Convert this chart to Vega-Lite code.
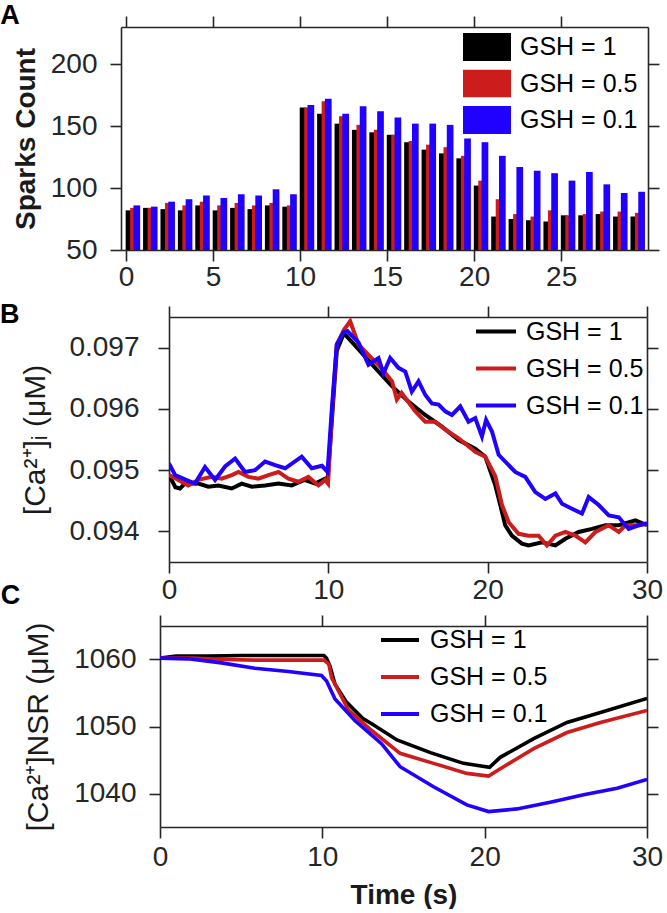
{
  "$schema": "https://vega.github.io/schema/vega-lite/v6.json",
  "background": "white",
  "padding": {"left": -1, "top": 2, "right": 0, "bottom": 0},
  "config": {
    "font": "Liberation Sans",
    "view": {"stroke": null},
    "axis": {
      "grid": false,
      "domainColor": "#262626", "domainWidth": 1.6,
      "tickColor": "#262626", "tickWidth": 1.6, "tickSize": 11,
      "labelColor": "#262626", "labelFont": "Liberation Sans", "labelFontSize": 28,
      "labelFlush": false, "labelOverlap": false,
      "titleColor": "#1a1a1a", "titleFont": "Liberation Sans", "titleFontSize": 28, "titleFontWeight": "bold"
    },
    "legend": {
      "orient": "none", "padding": 0, "title": null,
      "labelFont": "Liberation Sans", "labelFontSize": 25, "labelColor": "#000000"
    },
    "title": {"font": "Liberation Sans", "fontSize": 27, "fontWeight": "bold", "color": "#000000", "anchor": "start", "frame": "bounds"}
  },
  "resolve": {"scale": {"color": "independent", "x": "independent", "y": "independent"}, "legend": {"color": "independent"}},
  "spacing": 10,
  "vconcat": [
    {
      "width": 527, "height": 223,
      "title": {"text": "A", "dx": -12, "offset": -15},
      "data": {"values": [
        {"t":0,"g":"GSH = 1","n":82},{"t":1,"g":"GSH = 1","n":84},{"t":2,"g":"GSH = 1","n":83},{"t":3,"g":"GSH = 1","n":82},{"t":4,"g":"GSH = 1","n":86},{"t":5,"g":"GSH = 1","n":82},{"t":6,"g":"GSH = 1","n":84},{"t":7,"g":"GSH = 1","n":83},{"t":8,"g":"GSH = 1","n":86},{"t":9,"g":"GSH = 1","n":85},
        {"t":10,"g":"GSH = 1","n":165},{"t":11,"g":"GSH = 1","n":160},{"t":12,"g":"GSH = 1","n":152},{"t":13,"g":"GSH = 1","n":147},{"t":14,"g":"GSH = 1","n":145},{"t":15,"g":"GSH = 1","n":143},{"t":16,"g":"GSH = 1","n":137},{"t":17,"g":"GSH = 1","n":131},{"t":18,"g":"GSH = 1","n":128},{"t":19,"g":"GSH = 1","n":124},
        {"t":20,"g":"GSH = 1","n":102},{"t":21,"g":"GSH = 1","n":77},{"t":22,"g":"GSH = 1","n":75},{"t":23,"g":"GSH = 1","n":74},{"t":24,"g":"GSH = 1","n":73},{"t":25,"g":"GSH = 1","n":78},{"t":26,"g":"GSH = 1","n":78},{"t":27,"g":"GSH = 1","n":79},{"t":28,"g":"GSH = 1","n":77},{"t":29,"g":"GSH = 1","n":77},
        {"t":0,"g":"GSH = 0.5","n":84},{"t":1,"g":"GSH = 0.5","n":84},{"t":2,"g":"GSH = 0.5","n":88},{"t":3,"g":"GSH = 0.5","n":86},{"t":4,"g":"GSH = 0.5","n":89},{"t":5,"g":"GSH = 0.5","n":86},{"t":6,"g":"GSH = 0.5","n":88},{"t":7,"g":"GSH = 0.5","n":86},{"t":8,"g":"GSH = 0.5","n":88},{"t":9,"g":"GSH = 0.5","n":86},
        {"t":10,"g":"GSH = 0.5","n":165},{"t":11,"g":"GSH = 0.5","n":170},{"t":12,"g":"GSH = 0.5","n":158},{"t":13,"g":"GSH = 0.5","n":151},{"t":14,"g":"GSH = 0.5","n":147},{"t":15,"g":"GSH = 0.5","n":143},{"t":16,"g":"GSH = 0.5","n":138},{"t":17,"g":"GSH = 0.5","n":135},{"t":18,"g":"GSH = 0.5","n":133},{"t":19,"g":"GSH = 0.5","n":126},
        {"t":20,"g":"GSH = 0.5","n":106},{"t":21,"g":"GSH = 0.5","n":91},{"t":22,"g":"GSH = 0.5","n":79},{"t":23,"g":"GSH = 0.5","n":77},{"t":24,"g":"GSH = 0.5","n":82},{"t":25,"g":"GSH = 0.5","n":78},{"t":26,"g":"GSH = 0.5","n":79},{"t":27,"g":"GSH = 0.5","n":81},{"t":28,"g":"GSH = 0.5","n":81},{"t":29,"g":"GSH = 0.5","n":80},
        {"t":0,"g":"GSH = 0.1","n":86},{"t":1,"g":"GSH = 0.1","n":85},{"t":2,"g":"GSH = 0.1","n":89},{"t":3,"g":"GSH = 0.1","n":91},{"t":4,"g":"GSH = 0.1","n":94},{"t":5,"g":"GSH = 0.1","n":92},{"t":6,"g":"GSH = 0.1","n":95},{"t":7,"g":"GSH = 0.1","n":94},{"t":8,"g":"GSH = 0.1","n":99},{"t":9,"g":"GSH = 0.1","n":95},
        {"t":10,"g":"GSH = 0.1","n":167},{"t":11,"g":"GSH = 0.1","n":172},{"t":12,"g":"GSH = 0.1","n":160},{"t":13,"g":"GSH = 0.1","n":166},{"t":14,"g":"GSH = 0.1","n":162},{"t":15,"g":"GSH = 0.1","n":157},{"t":16,"g":"GSH = 0.1","n":152},{"t":17,"g":"GSH = 0.1","n":152},{"t":18,"g":"GSH = 0.1","n":151},{"t":19,"g":"GSH = 0.1","n":140},
        {"t":20,"g":"GSH = 0.1","n":137},{"t":21,"g":"GSH = 0.1","n":126},{"t":22,"g":"GSH = 0.1","n":117},{"t":23,"g":"GSH = 0.1","n":114},{"t":24,"g":"GSH = 0.1","n":112},{"t":25,"g":"GSH = 0.1","n":106},{"t":26,"g":"GSH = 0.1","n":113},{"t":27,"g":"GSH = 0.1","n":103},{"t":28,"g":"GSH = 0.1","n":96},{"t":29,"g":"GSH = 0.1","n":97}
      ]},
      "layer": [
        {
          "transform": [{"filter": {"field": "g", "equal": "GSH = 1"}}],
          "mark": {"type": "bar", "width": 6.7, "xOffset": 3, "clip": true},
          "encoding": {
            "x": {"field": "t", "type": "quantitative", "scale": {"domain": [0, 29.7], "nice": false, "zero": false},
                  "axis": {"values": [0, 5, 10, 15, 20, 25], "title": null, "labelPadding": 2}},
            "y": {"field": "n", "type": "quantitative", "scale": {"domain": [50, 230], "nice": false, "zero": false},
                  "axis": {"values": [50, 100, 150, 200], "title": "Sparks Count", "labelPadding": 13, "titlePadding": 10}},
            "y2": {"datum": 50},
            "color": {"field": "g", "type": "nominal",
                      "scale": {"domain": ["GSH = 1", "GSH = 0.5", "GSH = 0.1"], "range": ["#000000", "#CC1C1C", "#2000FF"]},
                      "legend": {"legendX": 342, "legendY": 6, "symbolType": "M-1,-0.58H1V0.58H-1Z", "symbolSize": 2304, "symbolStrokeWidth": 0, "symbolOpacity": 1, "clipHeight": 28, "rowPadding": 8.5, "labelOffset": 9}}
          }
        },
        {
          "transform": [{"filter": {"field": "g", "equal": "GSH = 0.5"}}],
          "mark": {"type": "bar", "width": 6.7, "xOffset": 7.5, "clip": true},
          "encoding": {
            "x": {"field": "t", "type": "quantitative", "axis": null},
            "y": {"field": "n", "type": "quantitative", "axis": null},
            "y2": {"datum": 50},
            "color": {"field": "g", "type": "nominal"}
          }
        },
        {
          "transform": [{"filter": {"field": "g", "equal": "GSH = 0.1"}}],
          "mark": {"type": "bar", "width": 6.7, "xOffset": 10.8, "clip": true},
          "encoding": {
            "x": {"field": "t", "type": "quantitative", "axis": null},
            "y": {"field": "n", "type": "quantitative", "axis": null},
            "y2": {"datum": 50},
            "color": {"field": "g", "type": "nominal"}
          }
        },
        {
          "mark": {"type": "point", "opacity": 0},
          "encoding": {
            "x": {"field": "t", "type": "quantitative", "axis": {"orient": "top", "labels": false, "title": null, "values": [0, 5, 10, 15, 20, 25]}},
            "y": {"field": "n", "type": "quantitative", "axis": {"orient": "right", "labels": false, "title": null, "values": [50, 100, 150, 200]}}
          }
        }
      ],
      "resolve": {"axis": {"x": "independent", "y": "independent"}}
    },
    {
      "spacing": -22,
      "resolve": {"scale": {"color": "independent", "x": "independent", "y": "independent"}, "legend": {"color": "independent"}},
      "vconcat": [
        {
          "hconcat": [
            {"width": 48, "height": 10, "data": {"values": [{}]}, "mark": {"type": "point", "opacity": 0}, "encoding": {}},
            {
              "width": 478, "height": 245,
              "title": {"text": "B", "dx": -21, "offset": -24},
              "data": {"values": [
                {"t":0,"v":0.09492,"g":"GSH = 1"},{"t":0.4,"v":0.09472,"g":"GSH = 1"},{"t":0.69,"v":0.0947,"g":"GSH = 1"},{"t":1.0,"v":0.09478,"g":"GSH = 1"},{"t":1.84,"v":0.09478,"g":"GSH = 1"},{"t":2.47,"v":0.09473,"g":"GSH = 1"},{"t":3.1,"v":0.09475,"g":"GSH = 1"},{"t":3.94,"v":0.0947,"g":"GSH = 1"},{"t":4.56,"v":0.09478,"g":"GSH = 1"},{"t":5.2,"v":0.09473,"g":"GSH = 1"},{"t":6.03,"v":0.09475,"g":"GSH = 1"},{"t":6.87,"v":0.09478,"g":"GSH = 1"},{"t":7.7,"v":0.09475,"g":"GSH = 1"},{"t":8.5,"v":0.09484,"g":"GSH = 1"},{"t":9.17,"v":0.09478,"g":"GSH = 1"},{"t":9.8,"v":0.09486,"g":"GSH = 1"},{"t":9.95,"v":0.09482,"g":"GSH = 1"},
                {"t":10.22,"v":0.0958,"g":"GSH = 1"},{"t":10.53,"v":0.09695,"g":"GSH = 1"},{"t":10.95,"v":0.09722,"g":"GSH = 1"},{"t":11.1,"v":0.0972,"g":"GSH = 1"},{"t":11.9,"v":0.09697,"g":"GSH = 1"},{"t":12.94,"v":0.09667,"g":"GSH = 1"},{"t":13.99,"v":0.09637,"g":"GSH = 1"},{"t":15.03,"v":0.09612,"g":"GSH = 1"},{"t":16.08,"v":0.0959,"g":"GSH = 1"},{"t":17.13,"v":0.09571,"g":"GSH = 1"},{"t":18.18,"v":0.09549,"g":"GSH = 1"},{"t":19.22,"v":0.09535,"g":"GSH = 1"},{"t":19.85,"v":0.09522,"g":"GSH = 1"},
                {"t":20.48,"v":0.09475,"g":"GSH = 1"},{"t":20.79,"v":0.09443,"g":"GSH = 1"},{"t":21.1,"v":0.0941,"g":"GSH = 1"},{"t":21.52,"v":0.09393,"g":"GSH = 1"},{"t":22.15,"v":0.0938,"g":"GSH = 1"},{"t":22.57,"v":0.09377,"g":"GSH = 1"},{"t":23.41,"v":0.09382,"g":"GSH = 1"},{"t":24.25,"v":0.09377,"g":"GSH = 1"},{"t":24.88,"v":0.09388,"g":"GSH = 1"},{"t":25.71,"v":0.09399,"g":"GSH = 1"},{"t":26.55,"v":0.09404,"g":"GSH = 1"},{"t":27.39,"v":0.0941,"g":"GSH = 1"},{"t":28.23,"v":0.0941,"g":"GSH = 1"},{"t":29.27,"v":0.09418,"g":"GSH = 1"},{"t":30,"v":0.0941,"g":"GSH = 1"},
                {"t":0,"v":0.09492,"g":"GSH = 0.5"},{"t":0.59,"v":0.09484,"g":"GSH = 0.5"},{"t":1.21,"v":0.09475,"g":"GSH = 0.5"},{"t":1.84,"v":0.09484,"g":"GSH = 0.5"},{"t":2.68,"v":0.09489,"g":"GSH = 0.5"},{"t":3.31,"v":0.09486,"g":"GSH = 0.5"},{"t":3.94,"v":0.09492,"g":"GSH = 0.5"},{"t":4.36,"v":0.09497,"g":"GSH = 0.5"},{"t":4.98,"v":0.09489,"g":"GSH = 0.5"},{"t":5.61,"v":0.09486,"g":"GSH = 0.5"},{"t":6.24,"v":0.09492,"g":"GSH = 0.5"},{"t":6.87,"v":0.09497,"g":"GSH = 0.5"},{"t":7.49,"v":0.09486,"g":"GSH = 0.5"},{"t":8.12,"v":0.09481,"g":"GSH = 0.5"},{"t":8.75,"v":0.09489,"g":"GSH = 0.5"},{"t":9.38,"v":0.09475,"g":"GSH = 0.5"},{"t":9.8,"v":0.09484,"g":"GSH = 0.5"},{"t":9.98,"v":0.09478,"g":"GSH = 0.5"},
                {"t":10.22,"v":0.0959,"g":"GSH = 0.5"},{"t":10.53,"v":0.09705,"g":"GSH = 0.5"},{"t":11.0,"v":0.0973,"g":"GSH = 0.5"},{"t":11.37,"v":0.09743,"g":"GSH = 0.5"},{"t":11.9,"v":0.09705,"g":"GSH = 0.5"},{"t":12.52,"v":0.09688,"g":"GSH = 0.5"},{"t":13.25,"v":0.09669,"g":"GSH = 0.5"},{"t":14.0,"v":0.09645,"g":"GSH = 0.5"},{"t":14.3,"v":0.09615,"g":"GSH = 0.5"},{"t":14.6,"v":0.09626,"g":"GSH = 0.5"},{"t":15.45,"v":0.09596,"g":"GSH = 0.5"},{"t":16.08,"v":0.09579,"g":"GSH = 0.5"},{"t":16.7,"v":0.09579,"g":"GSH = 0.5"},{"t":17.34,"v":0.09566,"g":"GSH = 0.5"},{"t":18.18,"v":0.09552,"g":"GSH = 0.5"},{"t":19.22,"v":0.0953,"g":"GSH = 0.5"},{"t":19.85,"v":0.09522,"g":"GSH = 0.5"},
                {"t":20.48,"v":0.0949,"g":"GSH = 0.5"},{"t":20.9,"v":0.09443,"g":"GSH = 0.5"},{"t":21.32,"v":0.09415,"g":"GSH = 0.5"},{"t":21.94,"v":0.09396,"g":"GSH = 0.5"},{"t":22.57,"v":0.09393,"g":"GSH = 0.5"},{"t":23.2,"v":0.09393,"g":"GSH = 0.5"},{"t":23.72,"v":0.09377,"g":"GSH = 0.5"},{"t":24.25,"v":0.09393,"g":"GSH = 0.5"},{"t":24.88,"v":0.09399,"g":"GSH = 0.5"},{"t":25.5,"v":0.09393,"g":"GSH = 0.5"},{"t":26.13,"v":0.09382,"g":"GSH = 0.5"},{"t":26.76,"v":0.09399,"g":"GSH = 0.5"},{"t":27.6,"v":0.0941,"g":"GSH = 0.5"},{"t":28.23,"v":0.09399,"g":"GSH = 0.5"},{"t":28.65,"v":0.0941,"g":"GSH = 0.5"},{"t":29.5,"v":0.0941,"g":"GSH = 0.5"},{"t":30,"v":0.09413,"g":"GSH = 0.5"},
                {"t":0,"v":0.09511,"g":"GSH = 0.1"},{"t":0.38,"v":0.09492,"g":"GSH = 0.1"},{"t":1.0,"v":0.09485,"g":"GSH = 0.1"},{"t":1.63,"v":0.09478,"g":"GSH = 0.1"},{"t":2.26,"v":0.09505,"g":"GSH = 0.1"},{"t":2.89,"v":0.09484,"g":"GSH = 0.1"},{"t":3.52,"v":0.09506,"g":"GSH = 0.1"},{"t":4.15,"v":0.09519,"g":"GSH = 0.1"},{"t":4.77,"v":0.09497,"g":"GSH = 0.1"},{"t":5.4,"v":0.095,"g":"GSH = 0.1"},{"t":6.03,"v":0.09514,"g":"GSH = 0.1"},{"t":6.66,"v":0.09508,"g":"GSH = 0.1"},{"t":7.29,"v":0.09503,"g":"GSH = 0.1"},{"t":8.33,"v":0.09522,"g":"GSH = 0.1"},{"t":8.96,"v":0.09503,"g":"GSH = 0.1"},{"t":9.6,"v":0.09507,"g":"GSH = 0.1"},{"t":9.95,"v":0.09497,"g":"GSH = 0.1"},
                {"t":10.22,"v":0.096,"g":"GSH = 0.1"},{"t":10.53,"v":0.09705,"g":"GSH = 0.1"},{"t":10.95,"v":0.09725,"g":"GSH = 0.1"},{"t":11.2,"v":0.09727,"g":"GSH = 0.1"},{"t":11.9,"v":0.09708,"g":"GSH = 0.1"},{"t":12.52,"v":0.09672,"g":"GSH = 0.1"},{"t":13.15,"v":0.09683,"g":"GSH = 0.1"},{"t":13.46,"v":0.09658,"g":"GSH = 0.1"},{"t":13.88,"v":0.09683,"g":"GSH = 0.1"},{"t":14.4,"v":0.09667,"g":"GSH = 0.1"},{"t":14.83,"v":0.09661,"g":"GSH = 0.1"},{"t":15.24,"v":0.09628,"g":"GSH = 0.1"},{"t":15.66,"v":0.09645,"g":"GSH = 0.1"},{"t":16.08,"v":0.09623,"g":"GSH = 0.1"},{"t":16.5,"v":0.09609,"g":"GSH = 0.1"},{"t":16.92,"v":0.09607,"g":"GSH = 0.1"},{"t":17.34,"v":0.09596,"g":"GSH = 0.1"},{"t":17.76,"v":0.0959,"g":"GSH = 0.1"},{"t":18.28,"v":0.09604,"g":"GSH = 0.1"},{"t":18.8,"v":0.09579,"g":"GSH = 0.1"},{"t":19.22,"v":0.09585,"g":"GSH = 0.1"},{"t":19.64,"v":0.09555,"g":"GSH = 0.1"},{"t":19.9,"v":0.09582,"g":"GSH = 0.1"},
                {"t":20.27,"v":0.09563,"g":"GSH = 0.1"},{"t":20.69,"v":0.09525,"g":"GSH = 0.1"},{"t":21.32,"v":0.09508,"g":"GSH = 0.1"},{"t":21.73,"v":0.09497,"g":"GSH = 0.1"},{"t":22.36,"v":0.09489,"g":"GSH = 0.1"},{"t":22.99,"v":0.09464,"g":"GSH = 0.1"},{"t":23.62,"v":0.09453,"g":"GSH = 0.1"},{"t":24.25,"v":0.09462,"g":"GSH = 0.1"},{"t":24.67,"v":0.09445,"g":"GSH = 0.1"},{"t":25.29,"v":0.09437,"g":"GSH = 0.1"},{"t":25.92,"v":0.09429,"g":"GSH = 0.1"},{"t":26.34,"v":0.09456,"g":"GSH = 0.1"},{"t":26.97,"v":0.09443,"g":"GSH = 0.1"},{"t":27.6,"v":0.09426,"g":"GSH = 0.1"},{"t":28.23,"v":0.09423,"g":"GSH = 0.1"},{"t":28.85,"v":0.09404,"g":"GSH = 0.1"},{"t":29.48,"v":0.0941,"g":"GSH = 0.1"},{"t":30,"v":0.09413,"g":"GSH = 0.1"}
              ]},
              "layer": [
                {
                  "mark": {"type": "line", "strokeWidth": 4, "clip": true},
                  "encoding": {
                    "x": {"field": "t", "type": "quantitative", "scale": {"domain": [0, 30], "nice": false, "zero": false},
                          "axis": {"values": [0, 10, 20, 30], "title": null, "labelPadding": 3}},
                    "y": {"field": "v", "type": "quantitative", "scale": {"domain": [0.0935, 0.0975], "nice": false, "zero": false},
                          "axis": {"values": [0.094, 0.095, 0.096, 0.097], "format": ".3f", "title": "[Ca²⁺]ᵢ (μM)", "titleFontWeight": "normal", "titleFontSize": 30, "labelPadding": 19, "titlePadding": 18}},
                    "color": {"field": "g", "type": "nominal",
                              "scale": {"domain": ["GSH = 1", "GSH = 0.5", "GSH = 0.1"], "range": ["#000000", "#CC1C1C", "#2000FF"]},
                              "legend": {"legendX": 353, "legendY": 2, "symbolType": "stroke", "symbolSize": 1600, "symbolStrokeWidth": 4, "clipHeight": 25, "rowPadding": 11, "labelOffset": 8}}
                  }
                },
                {
                  "mark": {"type": "point", "opacity": 0},
                  "encoding": {
                    "x": {"field": "t", "type": "quantitative", "axis": {"orient": "top", "labels": false, "title": null, "values": [0, 10, 20, 30]}},
                    "y": {"field": "v", "type": "quantitative", "axis": {"orient": "right", "labels": false, "title": null, "values": [0.094, 0.095, 0.096, 0.097]}}
                  }
                }
              ],
              "resolve": {"axis": {"x": "independent", "y": "independent"}}
            }
          ],
          "spacing": 0,
          "bounds": "flush"
        },
        {
          "hconcat": [
            {"width": 39, "height": 10, "data": {"values": [{}]}, "mark": {"type": "point", "opacity": 0}, "encoding": {}},
            {
              "width": 487, "height": 201,
              "title": {"text": "C", "dx": -23},
              "data": {"values": [
                {"t":0,"v":1060.2,"g":"GSH = 1"},{"t":1,"v":1060.5,"g":"GSH = 1"},{"t":3,"v":1060.5,"g":"GSH = 1"},{"t":5,"v":1060.6,"g":"GSH = 1"},{"t":7,"v":1060.6,"g":"GSH = 1"},{"t":9,"v":1060.6,"g":"GSH = 1"},{"t":10.1,"v":1060.6,"g":"GSH = 1"},{"t":10.26,"v":1060.2,"g":"GSH = 1"},{"t":10.47,"v":1059.0,"g":"GSH = 1"},{"t":10.78,"v":1056.3,"g":"GSH = 1"},{"t":11.5,"v":1053.6,"g":"GSH = 1"},{"t":12.5,"v":1051.2,"g":"GSH = 1"},{"t":13.04,"v":1050.4,"g":"GSH = 1"},{"t":14.6,"v":1048.0,"g":"GSH = 1"},{"t":16.66,"v":1046.1,"g":"GSH = 1"},{"t":18.7,"v":1044.5,"g":"GSH = 1"},{"t":20.3,"v":1043.9,"g":"GSH = 1"},{"t":20.96,"v":1045.4,"g":"GSH = 1"},{"t":23.02,"v":1048.2,"g":"GSH = 1"},{"t":25.07,"v":1050.6,"g":"GSH = 1"},{"t":27.13,"v":1052.1,"g":"GSH = 1"},{"t":30,"v":1054.2,"g":"GSH = 1"},
                {"t":0,"v":1060.2,"g":"GSH = 0.5"},{"t":2,"v":1060.2,"g":"GSH = 0.5"},{"t":4,"v":1060.0,"g":"GSH = 0.5"},{"t":6,"v":1059.9,"g":"GSH = 0.5"},{"t":8,"v":1059.9,"g":"GSH = 0.5"},{"t":10.1,"v":1059.9,"g":"GSH = 0.5"},{"t":10.4,"v":1059.3,"g":"GSH = 0.5"},{"t":10.57,"v":1057.3,"g":"GSH = 0.5"},{"t":11.6,"v":1052.5,"g":"GSH = 0.5"},{"t":13.04,"v":1049.4,"g":"GSH = 0.5"},{"t":14.79,"v":1046.0,"g":"GSH = 0.5"},{"t":16.85,"v":1044.5,"g":"GSH = 0.5"},{"t":18.9,"v":1043.0,"g":"GSH = 0.5"},{"t":20.24,"v":1042.6,"g":"GSH = 0.5"},{"t":20.96,"v":1043.7,"g":"GSH = 0.5"},{"t":23.02,"v":1046.7,"g":"GSH = 0.5"},{"t":25.07,"v":1049.1,"g":"GSH = 0.5"},{"t":27.13,"v":1050.6,"g":"GSH = 0.5"},{"t":30,"v":1052.4,"g":"GSH = 0.5"},
                {"t":0,"v":1060.2,"g":"GSH = 0.1"},{"t":1.73,"v":1060.1,"g":"GSH = 0.1"},{"t":3.79,"v":1059.5,"g":"GSH = 0.1"},{"t":5.84,"v":1058.7,"g":"GSH = 0.1"},{"t":7.9,"v":1058.2,"g":"GSH = 0.1"},{"t":9.95,"v":1057.6,"g":"GSH = 0.1"},{"t":10.26,"v":1056.8,"g":"GSH = 0.1"},{"t":10.78,"v":1054.1,"g":"GSH = 0.1"},{"t":12.0,"v":1050.9,"g":"GSH = 0.1"},{"t":13.66,"v":1047.4,"g":"GSH = 0.1"},{"t":14.79,"v":1044.0,"g":"GSH = 0.1"},{"t":16.85,"v":1041.0,"g":"GSH = 0.1"},{"t":18.9,"v":1038.3,"g":"GSH = 0.1"},{"t":20.24,"v":1037.3,"g":"GSH = 0.1"},{"t":21.99,"v":1037.7,"g":"GSH = 0.1"},{"t":24.04,"v":1038.7,"g":"GSH = 0.1"},{"t":26.1,"v":1039.8,"g":"GSH = 0.1"},{"t":28.16,"v":1040.8,"g":"GSH = 0.1"},{"t":30,"v":1042.1,"g":"GSH = 0.1"}
              ]},
              "layer": [
                {
                  "mark": {"type": "line", "strokeWidth": 3.6, "clip": true},
                  "encoding": {
                    "x": {"field": "t", "type": "quantitative", "scale": {"domain": [0, 30], "nice": false, "zero": false},
                          "axis": {"values": [0, 10, 20, 30], "title": "Time (s)", "labelPadding": 5, "titlePadding": 10}},
                    "y": {"field": "v", "type": "quantitative", "scale": {"domain": [1035, 1065], "nice": false, "zero": false},
                          "axis": {"values": [1040, 1050, 1060], "format": "d", "title": "[Ca²⁺]NSR (μM)", "titleFontWeight": "normal", "titleFontSize": 30, "labelPadding": 13, "titlePadding": 20}},
                    "color": {"field": "g", "type": "nominal",
                              "scale": {"domain": ["GSH = 1", "GSH = 0.5", "GSH = 0.1"], "range": ["#000000", "#CC1C1C", "#2000FF"]},
                              "legend": {"legendX": 258, "legendY": 1.5, "symbolType": "stroke", "symbolSize": 1444, "symbolStrokeWidth": 4, "clipHeight": 25, "rowPadding": 11, "labelOffset": 9}}
                  }
                },
                {
                  "mark": {"type": "point", "opacity": 0},
                  "encoding": {
                    "x": {"field": "t", "type": "quantitative", "axis": {"orient": "top", "labels": false, "title": null, "values": [0, 10, 20, 30]}},
                    "y": {"field": "v", "type": "quantitative", "axis": {"orient": "right", "labels": false, "title": null, "values": [1040, 1050, 1060]}}
                  }
                }
              ],
              "resolve": {"axis": {"x": "independent", "y": "independent"}}
            }
          ],
          "spacing": 0,
          "bounds": "flush"
        }
      ]
    }
  ]
}
